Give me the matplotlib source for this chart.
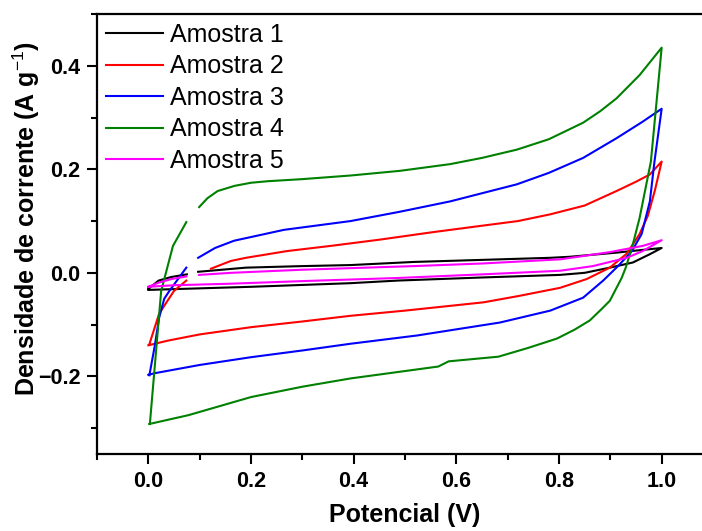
import numpy as np
import matplotlib
matplotlib.use('Agg')
import matplotlib.pyplot as plt
from matplotlib.ticker import MultipleLocator

nan = np.nan

# Amostra 1 - varredura direta (0 -> 1 V) e depois inversa (1 -> 0 V)
x_am1 = [0.0, 0.02, 0.045, 0.075, nan, 0.097, 0.19, 0.3, 0.394, 0.517, 0.65, 0.783, 0.821, 0.912, 0.96, 1.0,
         0.977, 0.944, 0.899, 0.85, 0.802, 0.65, 0.485, 0.394, 0.2, 0.1, 0.0]
y_am1 = [-0.031, -0.015, -0.008, -0.003, nan, 0.002, 0.010, 0.013, 0.015, 0.021, 0.025, 0.029, 0.031, 0.039, 0.044, 0.048,
         0.036, 0.020, 0.010, 0.000, -0.004, -0.009, -0.015, -0.020, -0.027, -0.030, -0.033]

x_am2 = [0.002, 0.021, 0.04, 0.05, 0.074, nan, 0.122, 0.161, 0.19, 0.27, 0.355, 0.45, 0.55, 0.65, 0.72, 0.783, 0.85,
         0.912, 0.95, 0.977, 1.0,
         0.987, 0.973, 0.957, 0.932, 0.899, 0.854, 0.802, 0.72, 0.653, 0.5, 0.394, 0.3, 0.2, 0.1, 0.038, 0.0]
y_am2 = [-0.138, -0.079, -0.05, -0.035, -0.015, nan, 0.008, 0.023, 0.029, 0.042, 0.052, 0.064, 0.078, 0.091, 0.100, 0.113,
         0.130, 0.158, 0.176, 0.190, 0.215,
         0.160, 0.110, 0.075, 0.037, 0.010, -0.012, -0.029, -0.045, -0.057, -0.073, -0.083, -0.094, -0.105, -0.119,
         -0.131, -0.140]

x_am3 = [0.002, 0.012, 0.021, 0.031, 0.041, 0.074, nan, 0.097, 0.13, 0.167, 0.264, 0.394, 0.49, 0.588, 0.718, 0.78,
         0.847, 0.912, 0.963, 1.0,
         0.986, 0.977, 0.961, 0.942, 0.915, 0.886, 0.847, 0.783, 0.685, 0.524, 0.394, 0.3, 0.2, 0.1, 0.012, 0.0]
y_am3 = [-0.198, -0.144, -0.087, -0.05, -0.035, 0.01, nan, 0.029, 0.048, 0.062, 0.083, 0.100, 0.118, 0.138, 0.171, 0.193,
         0.222, 0.260, 0.292, 0.317,
         0.215, 0.138, 0.075, 0.042, 0.013, -0.015, -0.048, -0.073, -0.096, -0.121, -0.137, -0.150, -0.163, -0.178,
         -0.194, -0.197]

x_am4 = [0.003, 0.025, 0.048, 0.074, nan, 0.099, 0.115, 0.135, 0.168, 0.2, 0.233, 0.3, 0.394, 0.49, 0.588, 0.65,
         0.718, 0.78, 0.847, 0.88, 0.912, 0.957, 1.0,
         0.979, 0.957, 0.942, 0.93, 0.922, 0.899, 0.884, 0.86, 0.83, 0.796, 0.74, 0.682, 0.585, 0.565, 0.394, 0.3,
         0.2, 0.078, 0.002]
y_am4 = [-0.292, -0.035, 0.052, 0.098, nan, 0.127, 0.144, 0.158, 0.168, 0.174, 0.177, 0.181, 0.188, 0.197, 0.210, 0.222,
         0.238, 0.258, 0.290, 0.312, 0.337, 0.382, 0.435,
         0.215, 0.106, 0.048, 0.010, -0.010, -0.054, -0.069, -0.092, -0.110, -0.127, -0.145, -0.162, -0.171, -0.181,
         -0.204, -0.220, -0.240, -0.275, -0.292]

x_am5 = [0.0, 0.02, 0.045, 0.074, nan, 0.099, 0.161, 0.3, 0.517, 0.65, 0.802, 0.899, 0.963, 1.0,
         0.963, 0.932, 0.866, 0.802, 0.65, 0.485, 0.3, 0.161, 0.05, 0.0]
y_am5 = [-0.027, -0.019, -0.012, -0.007, nan, -0.004, 0.000, 0.006, 0.013, 0.018, 0.026, 0.040, 0.052, 0.063,
         0.042, 0.029, 0.013, 0.004, -0.003, -0.010, -0.016, -0.021, -0.024, -0.027]

series = [(x_am1, y_am1, 'black', 'Amostra 1'),
          (x_am2, y_am2, '#FF0000', 'Amostra 2'),
          (x_am3, y_am3, '#0000FF', 'Amostra 3'),
          (x_am4, y_am4, '#008000', 'Amostra 4'),
          (x_am5, y_am5, '#FF00FF', 'Amostra 5')]

plt.rcParams['font.family'] = ['Liberation Sans', 'DejaVu Sans']
plt.rcParams['mathtext.fontset'] = 'custom'
plt.rcParams['mathtext.rm'] = 'Liberation Sans'

fig = plt.figure(figsize=(7.02, 5.31), dpi=100)
ax = fig.add_axes([97 / 702, 1 - 454 / 531, (713 - 97) / 702, (454 - 14) / 531])

for xs, ys, cor, nome in series:
    ax.plot(xs, ys, color=cor, lw=1.5, label=nome)

ax.set_xlim(-0.1, 1.1)
ax.set_ylim(-0.35, 0.5)
ax.xaxis.set_minor_locator(MultipleLocator(0.1))
ax.yaxis.set_minor_locator(MultipleLocator(0.1))
ax.set_xticks([0.0, 0.2, 0.4, 0.6, 0.8, 1.0])
ax.set_yticks([-0.2, 0.0, 0.2, 0.4])

ax.tick_params(which='major', direction='out', length=7, width=1.5, labelsize=15.5, pad=5)
ax.tick_params(which='minor', direction='out', length=4.5, width=1.5)
for lab in ax.get_xticklabels() + ax.get_yticklabels():
    lab.set_fontweight('bold')
for sp in ax.spines.values():
    sp.set_linewidth(1.6)

ax.set_xlabel('Potencial (V)', fontsize=18, fontweight='bold', labelpad=8)
ax.set_ylabel('Densidade de corrente (A g$^{-1}$)', fontsize=18, fontweight='bold')
ax.yaxis.set_label_coords(-0.09, 0.536)

ax.legend(loc='upper left', frameon=False, fontsize=18, handlelength=2.3, handletextpad=0.25,
          labelspacing=0.3, borderaxespad=0.15, borderpad=0.2)

fig.savefig('out.png', dpi=100)
